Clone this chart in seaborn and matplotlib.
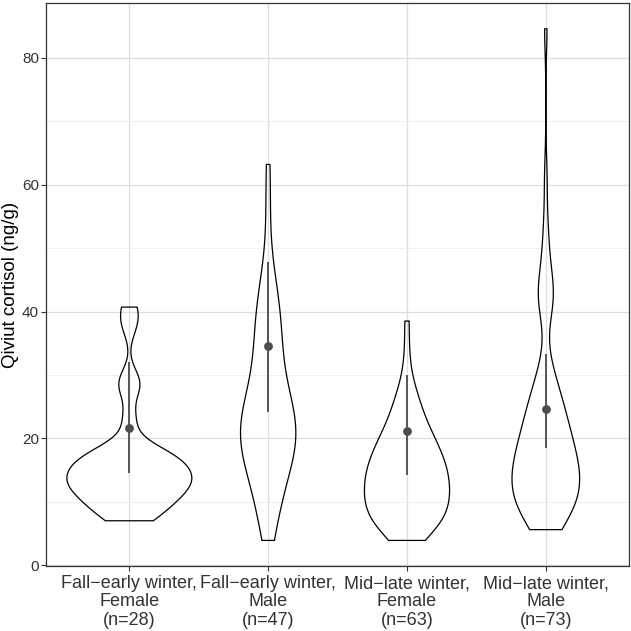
import numpy as np
import pandas as pd
import matplotlib
matplotlib.use("Agg")
import matplotlib.pyplot as plt
from matplotlib.ticker import MultipleLocator
import seaborn as sns

# groups shown on the x axis
groups = [
    "Fall\u2212early winter,\nFemale\n(n=28)",
    "Fall\u2212early winter,\nMale\n(n=47)",
    "Mid\u2212late winter,\nFemale\n(n=63)",
    "Mid\u2212late winter,\nMale\n(n=73)",
]

# qiviut cortisol (ng/g)
fall_female = [7.0, 7.6, 8.4, 9.2, 9.9, 10.5, 11.1, 11.6, 12.1, 12.5, 12.9, 13.3,
               13.7, 14.1, 14.5, 15.0, 15.5, 16.0, 16.5, 17.0, 17.5, 18.0, 18.4,
               23.0, 27.9, 29.3, 37.9, 40.7]
fall_male = [3.9, 6.0, 7.8, 9.3, 10.6, 11.8,
             12.8, 13.7, 15.2, 15.9, 16.5, 17.1, 17.6, 18.1, 18.6, 19.1,
             19.6, 20.1, 20.6, 21.1, 21.6, 22.1, 22.7, 23.3, 23.9, 24.3, 24.6,
             25.3, 26.1,
             27.0, 28.0, 29.1, 30.3, 31.5,
             32.8, 34.0, 35.2, 36.5, 37.8, 39.0, 40.0, 41.2, 42.8, 44.8,
             47.5, 55.5, 63.2]
late_female = [3.9, 4.4, 4.9, 5.3,
               5.7, 6.0, 6.35, 6.7, 7.0, 7.35, 7.7, 8.0, 8.3,
               8.6, 8.9, 9.2, 9.5, 9.75, 10.0, 10.3, 10.6, 10.9, 11.2, 11.5,
               11.8, 12.1, 12.4,
               12.7, 13.0, 13.3, 13.6, 13.9, 14.2, 14.5, 14.8, 15.1, 15.4, 15.7,
               16.0, 16.3, 16.6, 16.9,
               17.3, 17.7, 18.1, 18.5, 18.9, 19.3, 19.7, 20.1, 20.5, 20.9,
               21.6, 22.3, 23.0, 23.7,
               24.5, 25.4, 26.3,
               27.5, 29.0,
               33.0, 38.5]
late_male = [5.6, 6.0, 6.4, 6.8, 7.2, 7.6, 8.0,
             8.4, 8.8, 9.2, 9.5, 9.8, 10.1, 10.4, 10.7,
             11.0, 11.3, 11.6, 11.9, 12.2, 12.5, 12.8, 13.0, 13.2, 13.4, 13.8,
             14.2, 14.6, 14.9,
             15.2, 15.5, 15.8, 16.1, 16.4, 16.7, 17.0, 17.3, 17.7, 18.1, 18.5,
             18.9,
             19.3, 19.7, 20.1, 20.5, 20.9, 21.4, 21.9, 22.4, 22.9,
             23.5, 24.1, 24.4, 24.7, 25.4, 26.1, 26.8,
             27.6, 28.5, 29.4, 30.4,
             32.0,
             40.6, 41.4, 42.0, 42.6, 43.2, 44.0,
             47.0, 50.0, 53.5,
             61.0, 84.6]

# point estimate and interval drawn on each violin
est = [21.7, 34.5, 21.1, 24.7]
est_low = [14.6, 24.1, 14.2, 18.4]
est_high = [32.0, 47.8, 30.0, 33.3]

values = [fall_female, fall_male, late_female, late_male]
df = pd.DataFrame({
    "group": np.repeat(groups, [len(v) for v in values]),
    "cortisol": np.concatenate(values),
})


def nrd0(kde):
    # R's default bandwidth (bw.nrd0), as a factor of the sd
    d = kde.dataset.ravel()
    sd = d.std(ddof=1)
    q75, q25 = np.percentile(d, [75, 25])
    h = 0.9 * min(sd, (q75 - q25) / 1.34) * len(d) ** -0.2
    return h / sd


sns.set_theme(style="whitegrid")
plt.rcParams["font.family"] = ["Liberation Sans", "DejaVu Sans"]

fig, ax = plt.subplots(figsize=(6.31, 6.31), dpi=100)
fig.subplots_adjust(left=0.073, right=0.997, top=0.995, bottom=0.103)

sns.violinplot(data=df, x="group", y="cortisol", order=groups, fill=False,
               color="black", linewidth=0.9, inner=None, cut=0, width=0.9,
               density_norm="area", bw_method=nrd0, gridsize=512, ax=ax)

xs = np.arange(len(groups))
ax.vlines(xs, est_low, est_high, color="#555555", lw=1.4, zorder=3)
ax.scatter(xs, est, s=40, color="#4d4d4d", zorder=4, linewidths=0)

allv = df["cortisol"]
pad = 0.05 * (allv.max() - allv.min())
ax.set_ylim(allv.min() - pad, allv.max() + pad)
ax.set_xlim(-0.6, len(groups) - 0.4)

ax.yaxis.set_major_locator(MultipleLocator(20))
ax.yaxis.set_minor_locator(MultipleLocator(10))
ax.grid(which="major", color="#dedede", lw=0.9)
ax.grid(which="minor", axis="y", color="#ececec", lw=0.6)
ax.set_axisbelow(True)

for s in ax.spines.values():
    s.set_visible(True)
    s.set_color("#333333")
    s.set_linewidth(0.9)

ax.tick_params(which="major", bottom=True, left=True, length=3.5, width=0.8,
               color="#333333", labelcolor="#333333")
ax.tick_params(axis="x", labelsize=13, pad=3)
ax.tick_params(axis="y", labelsize=11, pad=1.5)
ax.tick_params(which="minor", length=0)
for lbl in ax.get_xticklabels():
    lbl.set_linespacing(1.1)

ax.set_xlabel("")
ax.set_ylabel("Qiviut cortisol (ng/g)", fontsize=13.5, color="black")
ax.yaxis.set_label_coords(-0.0463, 0.5)

fig.savefig("out.png", dpi=100)
